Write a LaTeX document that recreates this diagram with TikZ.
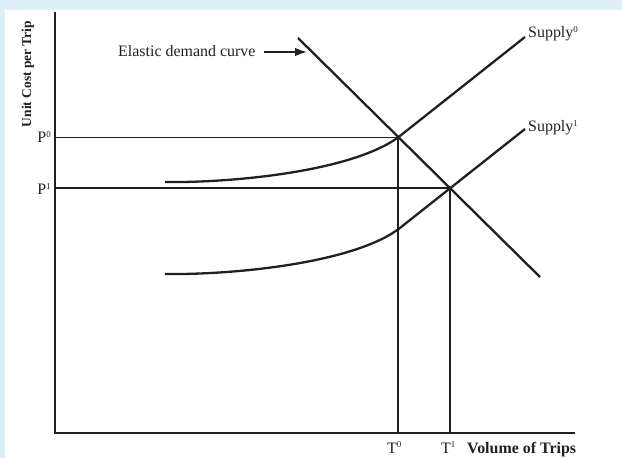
\documentclass[tikz,border=0pt]{standalone}
\usepackage{fontspec}
\setmainfont{Liberation Serif}
\usetikzlibrary{arrows.meta}
\definecolor{bgblue}{RGB}{221,238,246}
\definecolor{ink}{RGB}{35,31,32}
\newcommand\sups[1]{\raisebox{6pt}{\fontsize{9}{9}\selectfont #1}}
\begin{document}
\begin{tikzpicture}[x=1bp,y=-1bp,
  axis/.style={draw=ink,line width=1.6bp},
  guide/.style={draw=ink,line width=1.5bp},
  curve/.style={draw=ink,line width=2.3bp},
  lbl/.style={inner sep=0pt,text=ink,font=\fontsize{16}{19}\selectfont},
  blbl/.style={lbl,font=\fontsize{16}{19}\selectfont\bfseries},
  pointer/.style={draw=ink,line width=2.6bp,-{Latex[length=13bp,width=8.5bp]}}]
\useasboundingbox (0,0) rectangle (622,458);
\fill[bgblue] (0,0) rectangle (622,458);
\fill[white] (5,10) rectangle (622,458);
% coordinates
\coordinate (O) at (55,433);
\coordinate (ytop) at (55,12);
\coordinate (xend) at (575,433);
\coordinate (p0) at (55,137.5);
\coordinate (p1) at (55,188);
\coordinate (E0) at (398,137.5);
\coordinate (E1) at (450,188);
\coordinate (t0) at (398,433);
\coordinate (t1) at (450,433);
\coordinate (dtop) at (298,38);
\coordinate (dbot) at (540,277);
\coordinate (s0start) at (165,182);
\coordinate (s0end) at (525,37);
\coordinate (s1start) at (165,274);
\coordinate (s1knee) at (398,229.5);
\coordinate (s1end) at (525,129);
\coordinate (atip) at (308,52);
% axes
\draw[axis] (ytop) -- (O) -- (xend);
% guides
\draw[guide] (p0) -- (E0) -- (t0);
\draw[guide] (p1) -- (E1) -- (t1);
% demand
\draw[curve] (dtop) -- (dbot);
% supply curves
\draw[curve] (s0start) .. controls (230,183) and (350,172) .. (E0) -- (s0end);
\draw[curve] (s1start) .. controls (230,275) and (350,264) .. (s1knee) -- (s1end);
% labels
\node[lbl,anchor=base west] (elab) at (118,57) {Elastic demand curve};
\draw[pointer] ([xshift=8bp]elab.east |- atip) -- (atip);
\node[lbl,anchor=base west] (sup0) at (528,38) {Supply\sups{0}};
\node[lbl,anchor=base west] (sup1) at (528,132) {Supply\sups{1}};
\node[lbl,anchor=base east] (P0) at (51,143) {P\sups{0}};
\node[lbl,anchor=base east] (P1) at (51,195) {P\sups{1}};
\node[lbl,anchor=base west] (T0) at (387,453) {T\sups{0}};
\node[lbl,anchor=base west] (T1) at (441,453) {T\sups{1}};
\node[blbl,anchor=base west] (vol) at (467,453) {Volume of Trips};
\node[lbl,font=\fontsize{13.5}{16}\selectfont\bfseries,rotate=90] (ylab) at (28,74) {Unit Cost per Trip};
\end{tikzpicture}
\end{document}
